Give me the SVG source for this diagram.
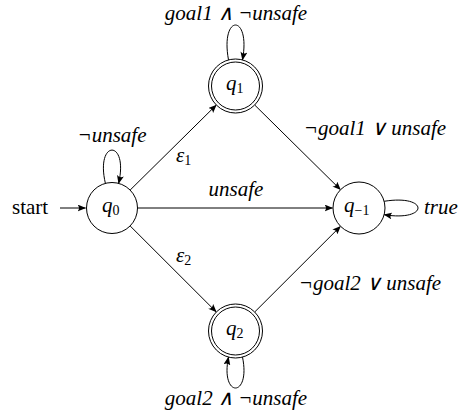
<svg xmlns="http://www.w3.org/2000/svg" width="459" height="417" viewBox="0 0 459 417">
<defs>
<marker id="arr" markerWidth="9" markerHeight="7" refX="8" refY="3.5" orient="auto" markerUnits="userSpaceOnUse">
<path d="M0,0 Q3,3.5 0,7 L8.5,3.5 Z" fill="#000"/>
</marker>
</defs>
<rect width="459" height="417" fill="#fff"/>
<g id="edges" fill="none" stroke="#000" stroke-width="1" marker-end="url(#arr)">
<path d="M60,208 L85.5,208"/>
<path d="M130.1,190.1 L216.3,105"/>
<path d="M130.1,225.9 L216.3,312"/>
<path d="M137.5,208 L332.5,208"/>
<path d="M254.7,105 L340.5,189.7"/>
<path d="M254.7,312 L340.5,226.3"/>
<path d="M105.4,183.4 C95,139 129,139 118.6,183.4"/>
<path d="M228.5,59.9 C220,13.4 251,13.4 242.5,59.9"/>
<path d="M242.5,357.1 C251,398.3 220,398.3 228.5,357.1"/>
<path d="M384.1,201.3 C429.3,194 429.3,222 384.1,214.7"/>
</g>
<text x="12" y="214" font-family="Liberation Serif" font-size="21">start</text>
<text x="112" y="142" text-anchor="middle" font-family="Liberation Serif" font-style="italic" font-size="21">¬unsafe</text>
<text x="236" y="20" text-anchor="middle" font-family="Liberation Serif" font-style="italic" font-size="21">goal1 ∧ ¬unsafe</text>
<text x="236" y="405" text-anchor="middle" font-family="Liberation Serif" font-style="italic" font-size="21">goal2 ∧ ¬unsafe</text>
<text x="236" y="196" text-anchor="middle" font-family="Liberation Serif" font-style="italic" font-size="21">unsafe</text>
<text x="375" y="135" text-anchor="middle" font-family="Liberation Serif" font-style="italic" font-size="21">¬goal1 ∨ unsafe</text>
<text x="370" y="290" text-anchor="middle" font-family="Liberation Serif" font-style="italic" font-size="21">¬goal2 ∨ unsafe</text>
<text x="424" y="214" font-family="Liberation Serif" font-style="italic" font-size="21">true</text>
<text x="176" y="162" font-family="Liberation Serif" font-style="italic" font-size="21">ε<tspan font-size="14" font-style="normal" dy="3">1</tspan></text>
<text x="176" y="262" font-family="Liberation Serif" font-style="italic" font-size="21">ε<tspan font-size="14" font-style="normal" dy="3">2</tspan></text>
<g id="q0" stroke="#000" fill="#fff">
<circle cx="112" cy="208" r="25.5"/>
</g>
<g id="q1" stroke="#000" fill="#fff">
<circle cx="235.5" cy="86" r="27"/>
<circle cx="235.5" cy="86" r="24"/>
</g>
<g id="q2" stroke="#000" fill="#fff">
<circle cx="235.5" cy="331" r="27"/>
<circle cx="235.5" cy="331" r="24"/>
</g>
<g id="qm1" stroke="#000" fill="#fff">
<circle cx="359" cy="208" r="26"/>
</g>
<text x="102" y="212" font-family="Liberation Serif" font-style="italic" font-size="21">q<tspan font-size="14" font-style="normal" dy="3">0</tspan></text>
<text x="226" y="90" font-family="Liberation Serif" font-style="italic" font-size="21">q<tspan font-size="14" font-style="normal" dy="3">1</tspan></text>
<text x="226" y="335" font-family="Liberation Serif" font-style="italic" font-size="21">q<tspan font-size="14" font-style="normal" dy="3">2</tspan></text>
<text x="344" y="212" font-family="Liberation Serif" font-style="italic" font-size="21">q<tspan font-size="14" font-style="normal" dy="3">−1</tspan></text>
</svg>
